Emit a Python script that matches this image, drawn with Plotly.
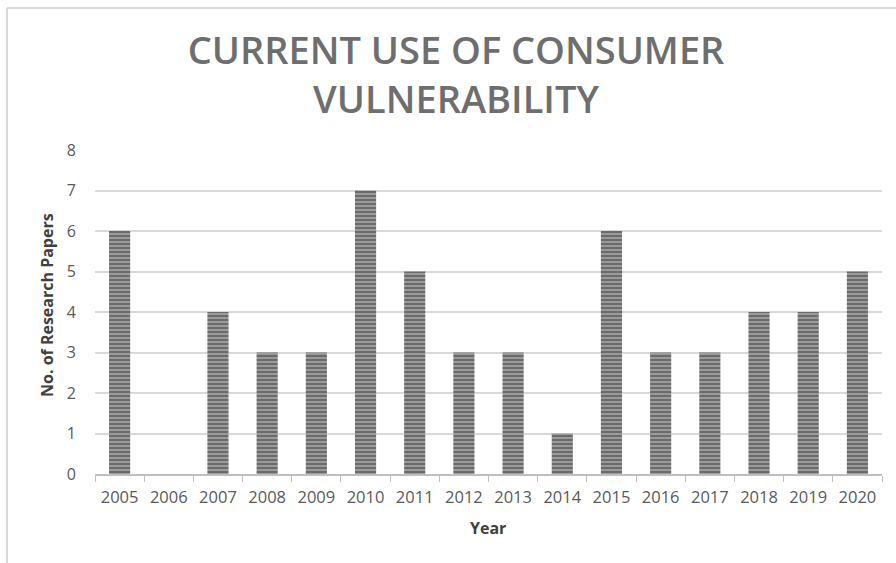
import plotly.graph_objects as go

years = ["2005","2006","2007","2008","2009","2010","2011","2012","2013","2014","2015","2016","2017","2018","2019","2020"]
papers = [6, 0, 4, 3, 3, 7, 5, 3, 3, 1, 6, 3, 3, 4, 4, 5]
y_ticks = [0, 1, 2, 3, 4, 5, 6, 7, 8]

W, H = 896, 563
L, R, T, B = 95, 14, 150, 89
pw, ph = W - L - R, H - T - B

fig = go.Figure(go.Bar(
    x=years, y=papers,
    marker=dict(color="#8c8c8c",
                pattern=dict(shape="-", fgcolor="#3c3c3c", bgcolor="#9a9a9a", size=4, solidity=0.5),
                line=dict(color="#555555", width=0)),
))

fig.update_layout(
    width=W, height=H,
    margin=dict(l=L, r=R, t=T, b=B),
    paper_bgcolor="white", plot_bgcolor="white",
    bargap=0.57,
    showlegend=False,
    title=dict(text="CURRENT USE OF CONSUMER<br>VULNERABILITY",
               x=456 / W, xanchor="center", y=1 - 64 / H, yanchor="middle",
               font=dict(family="Open Sans", size=38, color="#6e6e6e", weight=600)),
    font=dict(family="Open Sans", color="#595959"),
    xaxis=dict(type="category", tickson="boundaries", ticks="outside", ticklen=6,
               tickcolor="#bfbfbf", showline=True, linecolor="#bfbfbf", linewidth=2,
               showgrid=False, ticklabelstandoff=7, tickfont=dict(size=16.5, color="#595959")),
    yaxis=dict(range=[0, 8], tickvals=y_ticks, showgrid=True, gridcolor="#d9d9d9", gridwidth=1.5,
               zeroline=False, showline=False, ticks="", ticklabelstandoff=18,
               tickfont=dict(size=16, color="#595959")),
    annotations=[
        dict(text="<b>No. of Research Papers</b>", textangle=-90, xref="paper", yref="paper",
             x=(47 - L) / pw, y=(H - B - 305) / ph, xanchor="center", yanchor="middle",
             showarrow=False, font=dict(family="Open Sans", size=16, color="#404040")),
        dict(text="<b>Year</b>", xref="paper", yref="paper",
             x=(488 - L) / pw, y=-(528 - (H - B)) / ph, xanchor="center", yanchor="middle",
             showarrow=False, font=dict(family="Open Sans", size=16, color="#404040")),
    ],
    shapes=[
        dict(type="line", xref="paper", yref="paper", x0=(7 - L) / pw, x1=(W + 5 - L) / pw,
             y0=(H - B - 8) / ph, y1=(H - B - 8) / ph, line=dict(color="#d9d9d9", width=2)),
        dict(type="line", xref="paper", yref="paper", x0=(7 - L) / pw, x1=(7 - L) / pw,
             y0=(H - B - 8) / ph, y1=-(B + 5) / ph, line=dict(color="#d9d9d9", width=2)),
    ],
)

fig.write_html("out.html")
